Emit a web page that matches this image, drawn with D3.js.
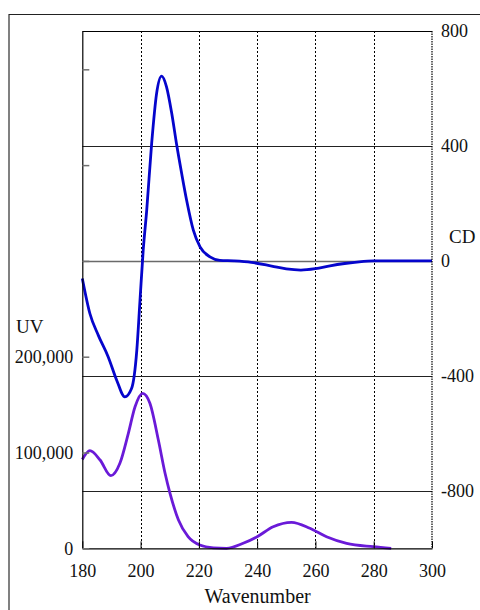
<!DOCTYPE html>
<html>
<head>
<meta charset="utf-8">
<script src="https://cdn.jsdelivr.net/npm/d3@7"></script>
<style>
  body { margin: 0; background: #fff; }
  svg { display: block; }
  svg text { font-family: "Liberation Serif", "Times New Roman", serif; fill: #111; }
</style>
</head>
<body>
<div id="chart"></div>
<script>

// CD spectrum (blue)
var cd_wl = [180, 182.6, 185.5, 188.9, 191.8, 194.6, 196.9, 198.7, 199.8, 200.9,
             202.1, 203.8, 205.5, 207.2, 208.9, 210.7, 212.4, 214.1, 215.8, 218.1,
             220.4, 223.8, 227.2, 232, 238, 245, 250, 255, 260, 265,
             270, 275, 280, 290, 300];
var cd_val = [-61, -183, -259, -334, -415, -473, -444, -311, -137, 37,
              176, 409, 583, 643, 606, 513, 403, 304, 211, 107,
              49, 14, 2, 0, -5, -18, -28, -32, -27, -17,
              -9, -3, 0, 0, 0];

// UV spectrum (purple)
var uv_wl = [180, 182.6, 186.1, 189.8, 192.9, 195.8, 198.1, 200.7, 203.2, 206.1,
             208.4, 210.1, 213, 216.3, 220.3, 225, 229.5, 235.2, 240, 245.5,
             251.8, 258.1, 263.8, 270.7, 279.8, 286];
var uv_val = [92700, 101900, 92200, 75800, 88700, 120000, 147800, 161800, 151400, 113000,
              78300, 57400, 29500, 12100, 3400, 500, 0, 5200, 12100, 22500,
              27100, 20900, 12100, 5200, 1700, 0];

var x_ticks = [180, 200, 220, 240, 260, 280, 300];
var x_grid = [200, 220, 240, 260, 280];
var uv_ticks = [0, 100000, 200000, 300000, 400000, 500000];
var uv_labelled = [0, 100000, 200000];
var cd_ticks = [800, 400, 0, -400, -800];
var cd_grid = [400, 0, -400, -800];

var width = 480, height = 610;
var p_left = 82.3, p_right = 432, p_top = 31, p_bottom = 548.3;
var serif = "Liberation Serif, Times New Roman, serif";

var svg = d3.select("#chart").append("svg")
    .attr("width", width)
    .attr("height", height);

// outer frame (only top and left edges are visible)
svg.append("line")
    .attr("x1", 9).attr("x2", 9).attr("y1", 14).attr("y2", height)
    .attr("stroke", "#808080").attr("stroke-width", 2);
svg.append("line")
    .attr("x1", 9).attr("x2", width).attr("y1", 14.5).attr("y2", 14.5)
    .attr("stroke", "#222").attr("stroke-width", 1);

var x = d3.scaleLinear().domain([180, 300]).range([p_left, p_right]);
var y_uv = d3.scaleLinear().domain([0, 540000]).range([p_bottom, p_top]);
var y_cd = d3.scaleLinear().domain([-1000, 800]).range([p_bottom, p_top]);

var g = svg.append("g");

// vertical dotted grid
g.selectAll(".vgrid")
    .data(x_grid)
    .enter().append("line")
    .classed("vgrid", true)
    .attr("x1", function(d) { return Math.round(x(d)) + 0.5; })
    .attr("x2", function(d) { return Math.round(x(d)) + 0.5; })
    .attr("y1", p_top).attr("y2", p_bottom)
    .attr("stroke", "#000")
    .attr("stroke-width", 1)
    .attr("stroke-dasharray", "2,2");

// horizontal solid grid from CD ticks
g.selectAll(".hgrid")
    .data(cd_grid)
    .enter().append("line")
    .classed("hgrid", true)
    .attr("x1", p_left).attr("x2", p_right)
    .attr("y1", function(d) { return Math.round(y_cd(d)) + 0.5; })
    .attr("y2", function(d) { return Math.round(y_cd(d)) + 0.5; })
    .attr("stroke", function(d) { return d === 0 ? "#6a6a6a" : "#222"; })
    .attr("stroke-width", function(d) { return d === 0 ? 1.6 : 1; });

// curves
var uv_line = d3.line()
    .x(function(d, i) { return x(uv_wl[i]); })
    .y(function(d) { return y_uv(d); })
    .curve(d3.curveMonotoneX);

var cd_line = d3.line()
    .x(function(d, i) { return x(cd_wl[i]); })
    .y(function(d) { return y_cd(d); })
    .curve(d3.curveMonotoneX);

g.append("path")
    .datum(uv_val)
    .attr("d", uv_line)
    .attr("fill", "none")
    .attr("stroke", "#6a1ad8")
    .attr("stroke-width", 2.8);

g.append("path")
    .datum(cd_val)
    .attr("d", cd_line)
    .attr("fill", "none")
    .attr("stroke", "#0505cc")
    .attr("stroke-width", 2.8);

// top border
g.append("line")
    .attr("x1", p_left).attr("x2", p_right)
    .attr("y1", p_top + 0.5).attr("y2", p_top + 0.5)
    .attr("stroke", "#000").attr("stroke-width", 1.2);

// right border, dotted
g.append("line")
    .attr("x1", p_right).attr("x2", p_right)
    .attr("y1", p_top).attr("y2", p_bottom)
    .attr("stroke", "#000").attr("stroke-width", 1.2)
    .attr("stroke-dasharray", "1.5,1");

// bottom axis
var x_axis = g.append("g")
    .attr("transform", "translate(0," + p_bottom + ")")
    .call(d3.axisBottom(x)
        .tickValues(x_ticks)
        .tickSize(-7)
        .tickSizeOuter(0)
        .tickPadding(16)
        .tickFormat(d3.format("d")));
x_axis.select(".domain").attr("stroke", "#000").attr("stroke-width", 1.2);
x_axis.selectAll("text")
    .attr("font-family", serif)
    .attr("font-size", 18)
    .attr("fill", "#111");

// left axis UV
var uv_axis = g.append("g")
    .attr("transform", "translate(" + p_left + ",0)")
    .call(d3.axisLeft(y_uv)
        .tickValues(uv_ticks)
        .tickSize(-7)
        .tickSizeOuter(0)
        .tickPadding(9)
        .tickFormat(function(d) {
            return uv_labelled.indexOf(d) >= 0 ? d3.format(",")(d) : "";
        }));
uv_axis.select(".domain").attr("stroke", "#000").attr("stroke-width", 1.2);
uv_axis.selectAll(".tick line").attr("stroke", "#707070").attr("stroke-width", 1.5);
uv_axis.selectAll("text")
    .attr("font-family", serif)
    .attr("font-size", 18)
    .attr("fill", "#111");

// right axis CD
var cd_axis = g.append("g")
    .attr("transform", "translate(" + p_right + ",0)")
    .call(d3.axisRight(y_cd)
        .tickValues(cd_ticks)
        .tickSize(0)
        .tickPadding(9)
        .tickFormat(function(d) { return String(d); }));
cd_axis.select(".domain").remove();
cd_axis.selectAll("text")
    .attr("font-family", serif)
    .attr("font-size", 18)
    .attr("fill", "#111");

// titles
svg.append("text")
    .attr("x", (p_left + p_right) / 2 + 0.5)
    .attr("y", 603)
    .attr("text-anchor", "middle")
    .attr("font-size", 20)
    .text("Wavenumber");

svg.append("text")
    .attr("x", 16)
    .attr("y", 333)
    .attr("font-size", 19)
    .text("UV");

svg.append("text")
    .attr("x", 449)
    .attr("y", 243)
    .attr("font-size", 19)
    .text("CD");

</script>
</body>
</html>
